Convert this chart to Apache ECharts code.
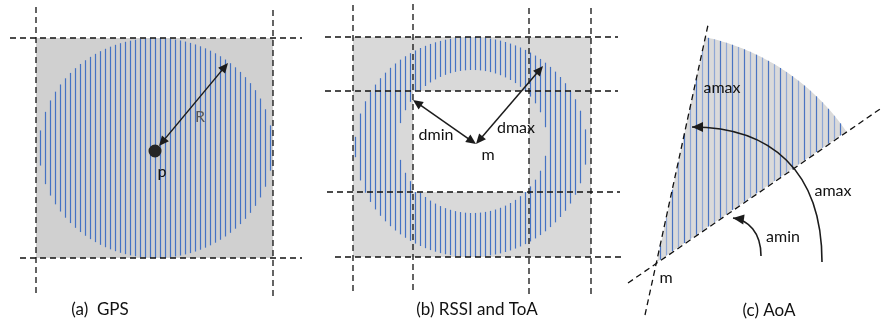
<!DOCTYPE html>
<html><head><meta charset="utf-8">
<script src="https://cdn.jsdelivr.net/npm/echarts@6/dist/echarts.min.js"></script>
<style>html,body{margin:0;padding:0;background:#fff}#c{width:884px;height:324px}</style>
</head><body><div id="c"></div>
<script>
// ---------- panel (a) GPS ----------
const gpsBox = [36, 38, 273, 258];            // x1, y1, x2, y2
const gpsCircle = [156, 148, 117, 110];       // cx, cy, rx, ry
const gpsPoint = [155, 151];
const gpsArrow = [159, 146, 228, 63];         // x1, y1, x2, y2 (double arrow R)
// ---------- panel (b) RSSI and ToA ----------
const rssiBox = [353, 37, 591, 257];
const rssiOuter = [471, 147, 116, 110];
const rssiInner = [472.5, 141.5, 74.5, 71.5];
const rssiClear = [413, 91, 529, 192];
const dminArrow = [476, 144, 413, 100];
const dmaxArrow = [476, 144, 543, 66];
// ---------- panel (c) AoA ----------
const aoaApex = [657, 262];
const aoaAngles = [34.6, 77.9];               // degrees
const aoaRadius = 230;
const amaxCurve = [822, 262, 822, 170, 770, 127, 692, 127];   // bezier: p0, c1, c2, p1
const aminCurve = [761, 256, 761, 232, 748, 220, 733, 218];
// ---------- dashed guide lines ----------
const dashedLines = [
  [36, 7, 36, 295], [273, 10, 273, 297], [10, 38, 302, 38], [20, 258, 302, 258],
  [353, 5, 353, 292], [413, 4, 413, 293], [529, 8, 529, 295], [591, 8, 591, 295],
  [325, 37, 618, 37], [325, 91, 618, 91], [327, 192, 620, 192], [335, 257, 622, 257],
  [645, 315, 708, 25], [628, 283, 883, 107]
];
// ---------- labels ----------
const noteText = ['R', 'p', 'dmin', 'dmax', 'm', 'amax', 'amax', 'amin', 'm'];
const notePos = [[200, 117], [162, 172], [436, 135], [516, 128], [488, 155], [722, 88], [833, 191], [783, 237], [666, 278]];
const captionText = ['(a)  GPS', '(b) RSSI and ToA', '(c) AoA'];
const captionPos = [[100, 310], [477, 310], [769, 311]];

// ---------- hatch segment derivation from the shapes above ----------
function ellipseHalf(e, x) {
  const t = (x - e[0]) / e[2];
  return Math.abs(t) >= 1 ? null : e[3] * Math.sqrt(1 - t * t);
}
const hatch = [];
for (let x = Math.ceil((gpsCircle[0] - gpsCircle[2]) / 5) * 5 + 0.5; x < gpsCircle[0] + gpsCircle[2]; x += 5) {
  const h = ellipseHalf(gpsCircle, x);
  if (h) hatch.push([x, gpsCircle[1] - h, x, gpsCircle[1] + h, 0]);
}
for (let x = Math.ceil((rssiOuter[0] - rssiOuter[2]) / 5) * 5 + 0.5; x < rssiOuter[0] + rssiOuter[2]; x += 5) {
  const h = ellipseHalf(rssiOuter, x);
  if (!h) continue;
  const top = rssiOuter[1] - h, bot = rssiOuter[1] + h;
  const hi = ellipseHalf(rssiInner, x);
  if (hi) {
    hatch.push([x, top, x, rssiInner[1] - hi, 1]);
    hatch.push([x, rssiInner[1] + hi, x, bot, 1]);
  } else hatch.push([x, top, x, bot, 1]);
}
{
  const a1 = aoaAngles[0] * Math.PI / 180, a2 = aoaAngles[1] * Math.PI / 180;
  let k = 0;
  for (let x = aoaApex[0] + 3.5; x < aoaApex[0] + aoaRadius * Math.cos(a1); x += 6, k++) {
    const dx = x - aoaApex[0];
    const top = Math.max(aoaApex[1] - dx * Math.tan(a2), aoaApex[1] - Math.sqrt(aoaRadius * aoaRadius - dx * dx));
    const bot = aoaApex[1] - dx * Math.tan(a1);
    if (top < bot) hatch.push([x, top, x, bot, 2 + (k % 2)]);
  }
}

const INK = '#1c1c1c';
const boxFills = ['#d0d0d0', '#d9d9d9'];
const hatchColors = ['#4472c4', '#4472c4', '#4a74c2', '#8ea7d6'];

function head(api, tip, from, len, half) {
  const dx = tip[0] - from[0], dy = tip[1] - from[1], L = Math.hypot(dx, dy);
  const ux = dx / L, uy = dy / L, bx = tip[0] - ux * len, by = tip[1] - uy * len;
  return { type: 'polygon', shape: { points: [tip, [bx - uy * half, by + ux * half], [bx + uy * half, by - ux * half]].map(p => api.coord(p)) }, style: { fill: INK } };
}

const chart = echarts.init(document.getElementById('c'), null, { renderer: 'canvas' });
chart.setOption({
  animation: false,
  grid: { left: 0, right: 0, top: 0, bottom: 0 },
  xAxis: { type: 'value', min: 0, max: 884, show: false },
  yAxis: { type: 'value', min: 0, max: 324, inverse: true, show: false },
  series: [
    { type: 'custom', z: 1, data: [gpsBox, rssiBox], renderItem(params, api) {
        const p1 = api.coord([api.value(0), api.value(1)]), p2 = api.coord([api.value(2), api.value(3)]);
        return { type: 'rect', shape: { x: p1[0], y: p1[1], width: p2[0] - p1[0], height: p2[1] - p1[1] }, style: { fill: boxFills[params.dataIndex] } };
      } },
    { type: 'custom', z: 2, data: [[aoaApex[0], aoaApex[1], aoaAngles[0], aoaAngles[1], aoaRadius]], renderItem(params, api) {
        const ax = api.value(0), ay = api.value(1), a1 = api.value(2) * Math.PI / 180, a2 = api.value(3) * Math.PI / 180, r = api.value(4);
        const pts = [api.coord([ax, ay])];
        for (let i = 0; i <= 60; i++) { const t = a1 + (a2 - a1) * i / 60; pts.push(api.coord([ax + r * Math.cos(t), ay - r * Math.sin(t)])); }
        return { type: 'polygon', shape: { points: pts }, style: { fill: '#dadada' } };
      } },
    { type: 'custom', z: 3, data: hatch, renderItem(params, api) {
        const p1 = api.coord([api.value(0), api.value(1)]), p2 = api.coord([api.value(2), api.value(3)]);
        return { type: 'line', shape: { x1: p1[0], y1: p1[1], x2: p2[0], y2: p2[1] }, style: { stroke: hatchColors[api.value(4)], lineWidth: 1.2 } };
      } },
    { type: 'custom', z: 4, data: [rssiClear], renderItem(params, api) {
        const p1 = api.coord([api.value(0), api.value(1)]), p2 = api.coord([api.value(2), api.value(3)]);
        return { type: 'rect', shape: { x: p1[0], y: p1[1], width: p2[0] - p1[0], height: p2[1] - p1[1] }, style: { fill: '#ffffff' } };
      } },
    { type: 'custom', z: 5, data: dashedLines, renderItem(params, api) {
        const p1 = api.coord([api.value(0), api.value(1)]), p2 = api.coord([api.value(2), api.value(3)]);
        return { type: 'line', shape: { x1: p1[0], y1: p1[1], x2: p2[0], y2: p2[1] }, style: { stroke: '#111', lineWidth: 1.3, lineDash: [6, 4] } };
      } },
    { type: 'custom', z: 6, data: [gpsArrow, dminArrow, dmaxArrow], renderItem(params, api) {
        const a = [api.value(0), api.value(1)], b = [api.value(2), api.value(3)];
        const L = Math.hypot(b[0] - a[0], b[1] - a[1]), ux = (b[0] - a[0]) / L, uy = (b[1] - a[1]) / L;
        const s = api.coord([a[0] + ux * 6, a[1] + uy * 6]), e = api.coord([b[0] - ux * 6, b[1] - uy * 6]);
        return { type: 'group', children: [
          { type: 'line', shape: { x1: s[0], y1: s[1], x2: e[0], y2: e[1] }, style: { stroke: INK, lineWidth: 1.5 } },
          head(api, a, b, 10, 4.5), head(api, b, a, 10, 4.5)] };
      } },
    { type: 'custom', z: 6, data: [amaxCurve, aminCurve], renderItem(params, api) {
        const v = []; for (let i = 0; i < 8; i++) v.push(api.value(i));
        const p0 = api.coord([v[0], v[1]]), c1 = api.coord([v[2], v[3]]), c2 = api.coord([v[4], v[5]]), p1 = api.coord([v[6], v[7]]);
        return { type: 'group', children: [
          { type: 'bezierCurve', shape: { x1: p0[0], y1: p0[1], cpx1: c1[0], cpy1: c1[1], cpx2: c2[0], cpy2: c2[1], x2: p1[0], y2: p1[1] }, style: { stroke: INK, lineWidth: 1.6, fill: null } },
          head(api, [v[6], v[7]], [v[4], v[5]], 11, 5)] };
      } },
    { type: 'scatter', z: 7, symbol: 'circle', symbolSize: 13, data: [gpsPoint], itemStyle: { color: '#262626', opacity: 1 } },
    { type: 'custom', z: 8, data: notePos, renderItem(params, api) {
        const p = api.coord([api.value(0), api.value(1)]);
        return { type: 'text', x: p[0], y: p[1], style: { text: noteText[params.dataIndex], fill: params.dataIndex === 0 ? '#595959' : '#111', font: '16px Lato', align: 'center', verticalAlign: 'middle' } };
      } },
    { type: 'custom', z: 8, data: captionPos, renderItem(params, api) {
        const p = api.coord([api.value(0), api.value(1)]);
        return { type: 'text', x: p[0], y: p[1], style: { text: captionText[params.dataIndex], fill: '#111', font: '17px Lato', align: 'center', verticalAlign: 'middle' } };
      } }
  ]
});
</script></body></html>
